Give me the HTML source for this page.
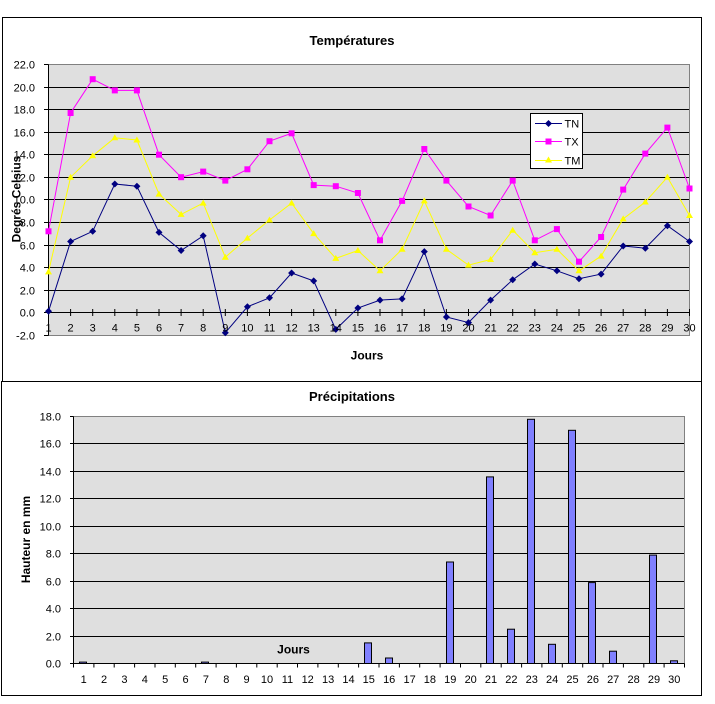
<!DOCTYPE html>
<html><head><meta charset="utf-8"><style>
html,body{margin:0;padding:0;background:#fff;}
svg{display:block;}
text{font-family:"Liberation Sans",Arial,sans-serif;fill:#000;}
.t{font-size:11px;}
.b{font-weight:bold;font-size:12px;}
.h{font-weight:bold;font-size:13px;}
</style></head><body>
<svg width="715" height="704" viewBox="0 0 715 704" xmlns="http://www.w3.org/2000/svg">
<rect width="715" height="704" fill="#fff"/>
<!-- chart frames -->
<rect x="2.5" y="17.5" width="699" height="364" fill="#fff" stroke="#000"/>
<rect x="1.5" y="381.5" width="700" height="314" fill="#fff" stroke="#000"/>

<!-- ===== TOP CHART ===== -->
<text class="h" x="352" y="45" text-anchor="middle">Températures</text>
<rect x="48.5" y="64.5" width="641" height="271" fill="#dfdfdf"/>
<g stroke="#000" stroke-width="1">
<line x1="48.5" y1="87.5" x2="689.5" y2="87.5"/>
<line x1="48.5" y1="109.5" x2="689.5" y2="109.5"/>
<line x1="48.5" y1="132.5" x2="689.5" y2="132.5"/>
<line x1="48.5" y1="154.5" x2="689.5" y2="154.5"/>
<line x1="48.5" y1="177.5" x2="689.5" y2="177.5"/>
<line x1="48.5" y1="199.5" x2="689.5" y2="199.5"/>
<line x1="48.5" y1="222.5" x2="689.5" y2="222.5"/>
<line x1="48.5" y1="245.5" x2="689.5" y2="245.5"/>
<line x1="48.5" y1="267.5" x2="689.5" y2="267.5"/>
<line x1="48.5" y1="290.5" x2="689.5" y2="290.5"/>
<line x1="48.5" y1="312.5" x2="689.5" y2="312.5"/>
</g>
<path d="M48.5 64.5 H689.5 V335.5 H48.5" fill="none" stroke="#808080"/>
<line x1="48.5" y1="64.5" x2="48.5" y2="335.5" stroke="#000"/>
<g stroke="#000">
<path d="M44 64.5H48.5M44 87.5H48.5M44 109.5H48.5M44 132.5H48.5M44 154.5H48.5M44 177.5H48.5M44 199.5H48.5M44 222.5H48.5M44 245.5H48.5M44 267.5H48.5M44 290.5H48.5M44 312.5H48.5M44 335.5H48.5"/>
<path d="M70.6 309V316M92.7 309V316M114.8 309V316M136.9 309V316M159 309V316M181.1 309V316M203.2 309V316M225.3 309V316M247.4 309V316M269.5 309V316M291.6 309V316M313.7 309V316M335.8 309V316M357.9 309V316M380 309V316M402.1 309V316M424.3 309V316M446.4 309V316M468.5 309V316M490.6 309V316M512.7 309V316M534.8 309V316M556.9 309V316M579 309V316M601.1 309V316M623.2 309V316M645.3 309V316M667.4 309V316M689.5 309V316"/>
</g>
<g class="t" text-anchor="end">
<text x="35" y="68.5">22.0</text>
<text x="35" y="91.5">20.0</text>
<text x="35" y="113.5">18.0</text>
<text x="35" y="136.5">16.0</text>
<text x="35" y="158.5">14.0</text>
<text x="35" y="181.5">12.0</text>
<text x="35" y="203.5">10.0</text>
<text x="35" y="226.5">8.0</text>
<text x="35" y="249.5">6.0</text>
<text x="35" y="271.5">4.0</text>
<text x="35" y="294.5">2.0</text>
<text x="35" y="316.5">0.0</text>
<text x="35" y="339.5">-2.0</text>
</g>
<text class="b" x="16.5" y="199" text-anchor="middle" dominant-baseline="central" transform="rotate(-90 16.5 199)">Degrés Celsius</text>

<!-- series TN -->
<polyline fill="none" stroke="#000080" points="48.5,311.3 70.6,241.5 92.7,231.3 114.8,184 136.9,186.2 159,232.4 181.1,250.5 203.2,235.8 225.3,332.7 247.4,306.8 269.5,297.8 291.6,273 313.7,280.9 335.8,329.4 357.9,308 380,300.1 402.1,298.9 424.3,251.6 446.4,317 468.5,322.6 490.6,300.1 512.7,279.8 534.8,264 556.9,270.8 579,278.7 601.1,274.1 623.2,246 645.3,248.2 667.4,225.7 689.5,241.5"/>
<!-- series TX -->
<polyline fill="none" stroke="#ff00ff" points="48.5,231.3 70.6,113 92.7,79.2 114.8,90.4 136.9,90.4 159,154.7 181.1,177.2 203.2,171.6 225.3,180.6 247.4,169.3 269.5,141.2 291.6,133.3 313.7,185.1 335.8,186.2 357.9,193 380,240.3 402.1,200.9 424.3,149 446.4,180.6 468.5,206.5 490.6,215.5 512.7,180.6 534.8,240.3 556.9,229.1 579,261.7 601.1,237 623.2,189.6 645.3,153.6 667.4,127.6 689.5,188.5"/>
<!-- series TM -->
<polyline fill="none" stroke="#ffff00" points="48.5,271.9 70.6,177.2 92.7,155.8 114.8,137.8 136.9,140 159,194.1 181.1,214.4 203.2,203.1 225.3,257.2 247.4,238.1 269.5,220 291.6,203.1 313.7,233.6 335.8,258.4 357.9,250.5 380,270.8 402.1,249.3 424.3,200.9 446.4,249.3 468.5,265.1 490.6,259.5 512.7,230.2 534.8,252.7 556.9,249.3 579,270.8 601.1,256.1 623.2,218.9 645.3,202 667.4,177.2 689.5,215.5"/>

<!-- TN markers (diamonds) -->
<g fill="#000080">
<path d="M48.5 307.8l3.5 3.5l-3.5 3.5l-3.5-3.5z"/>
<path d="M70.6 238l3.5 3.5l-3.5 3.5l-3.5-3.5z"/>
<path d="M92.7 227.8l3.5 3.5l-3.5 3.5l-3.5-3.5z"/>
<path d="M114.8 180.5l3.5 3.5l-3.5 3.5l-3.5-3.5z"/>
<path d="M136.9 182.7l3.5 3.5l-3.5 3.5l-3.5-3.5z"/>
<path d="M159 228.9l3.5 3.5l-3.5 3.5l-3.5-3.5z"/>
<path d="M181.1 247l3.5 3.5l-3.5 3.5l-3.5-3.5z"/>
<path d="M203.2 232.3l3.5 3.5l-3.5 3.5l-3.5-3.5z"/>
<path d="M225.3 329.2l3.5 3.5l-3.5 3.5l-3.5-3.5z"/>
<path d="M247.4 303.3l3.5 3.5l-3.5 3.5l-3.5-3.5z"/>
<path d="M269.5 294.3l3.5 3.5l-3.5 3.5l-3.5-3.5z"/>
<path d="M291.6 269.5l3.5 3.5l-3.5 3.5l-3.5-3.5z"/>
<path d="M313.7 277.4l3.5 3.5l-3.5 3.5l-3.5-3.5z"/>
<path d="M335.8 325.9l3.5 3.5l-3.5 3.5l-3.5-3.5z"/>
<path d="M357.9 304.5l3.5 3.5l-3.5 3.5l-3.5-3.5z"/>
<path d="M380 296.6l3.5 3.5l-3.5 3.5l-3.5-3.5z"/>
<path d="M402.1 295.4l3.5 3.5l-3.5 3.5l-3.5-3.5z"/>
<path d="M424.3 248.1l3.5 3.5l-3.5 3.5l-3.5-3.5z"/>
<path d="M446.4 313.5l3.5 3.5l-3.5 3.5l-3.5-3.5z"/>
<path d="M468.5 319.1l3.5 3.5l-3.5 3.5l-3.5-3.5z"/>
<path d="M490.6 296.6l3.5 3.5l-3.5 3.5l-3.5-3.5z"/>
<path d="M512.7 276.3l3.5 3.5l-3.5 3.5l-3.5-3.5z"/>
<path d="M534.8 260.5l3.5 3.5l-3.5 3.5l-3.5-3.5z"/>
<path d="M556.9 267.3l3.5 3.5l-3.5 3.5l-3.5-3.5z"/>
<path d="M579 275.2l3.5 3.5l-3.5 3.5l-3.5-3.5z"/>
<path d="M601.1 270.6l3.5 3.5l-3.5 3.5l-3.5-3.5z"/>
<path d="M623.2 242.5l3.5 3.5l-3.5 3.5l-3.5-3.5z"/>
<path d="M645.3 244.7l3.5 3.5l-3.5 3.5l-3.5-3.5z"/>
<path d="M667.4 222.2l3.5 3.5l-3.5 3.5l-3.5-3.5z"/>
<path d="M689.5 238l3.5 3.5l-3.5 3.5l-3.5-3.5z"/>
</g>
<!-- TX markers (squares) -->
<g fill="#ff00ff">
<rect x="45.5" y="228.3" width="6" height="6"/>
<rect x="67.6" y="110" width="6" height="6"/>
<rect x="89.7" y="76.2" width="6" height="6"/>
<rect x="111.8" y="87.4" width="6" height="6"/>
<rect x="133.9" y="87.4" width="6" height="6"/>
<rect x="156" y="151.7" width="6" height="6"/>
<rect x="178.1" y="174.2" width="6" height="6"/>
<rect x="200.2" y="168.6" width="6" height="6"/>
<rect x="222.3" y="177.6" width="6" height="6"/>
<rect x="244.4" y="166.3" width="6" height="6"/>
<rect x="266.5" y="138.2" width="6" height="6"/>
<rect x="288.6" y="130.3" width="6" height="6"/>
<rect x="310.7" y="182.1" width="6" height="6"/>
<rect x="332.8" y="183.2" width="6" height="6"/>
<rect x="354.9" y="190" width="6" height="6"/>
<rect x="377" y="237.3" width="6" height="6"/>
<rect x="399.1" y="197.9" width="6" height="6"/>
<rect x="421.3" y="146" width="6" height="6"/>
<rect x="443.4" y="177.6" width="6" height="6"/>
<rect x="465.5" y="203.5" width="6" height="6"/>
<rect x="487.6" y="212.5" width="6" height="6"/>
<rect x="509.7" y="177.6" width="6" height="6"/>
<rect x="531.8" y="237.3" width="6" height="6"/>
<rect x="553.9" y="226.1" width="6" height="6"/>
<rect x="576" y="258.7" width="6" height="6"/>
<rect x="598.1" y="234" width="6" height="6"/>
<rect x="620.2" y="186.6" width="6" height="6"/>
<rect x="642.3" y="150.6" width="6" height="6"/>
<rect x="664.4" y="124.6" width="6" height="6"/>
<rect x="686.5" y="185.5" width="6" height="6"/>
</g>
<!-- TM markers (triangles) -->
<g fill="#ffff00">
<path d="M48.5 268.4l3.5 6h-7z"/>
<path d="M70.6 173.7l3.5 6h-7z"/>
<path d="M92.7 152.3l3.5 6h-7z"/>
<path d="M114.8 134.3l3.5 6h-7z"/>
<path d="M136.9 136.5l3.5 6h-7z"/>
<path d="M159 190.6l3.5 6h-7z"/>
<path d="M181.1 210.9l3.5 6h-7z"/>
<path d="M203.2 199.6l3.5 6h-7z"/>
<path d="M225.3 253.7l3.5 6h-7z"/>
<path d="M247.4 234.6l3.5 6h-7z"/>
<path d="M269.5 216.5l3.5 6h-7z"/>
<path d="M291.6 199.6l3.5 6h-7z"/>
<path d="M313.7 230.1l3.5 6h-7z"/>
<path d="M335.8 254.9l3.5 6h-7z"/>
<path d="M357.9 247l3.5 6h-7z"/>
<path d="M380 267.3l3.5 6h-7z"/>
<path d="M402.1 245.8l3.5 6h-7z"/>
<path d="M424.3 197.4l3.5 6h-7z"/>
<path d="M446.4 245.8l3.5 6h-7z"/>
<path d="M468.5 261.6l3.5 6h-7z"/>
<path d="M490.6 256l3.5 6h-7z"/>
<path d="M512.7 226.7l3.5 6h-7z"/>
<path d="M534.8 249.2l3.5 6h-7z"/>
<path d="M556.9 245.8l3.5 6h-7z"/>
<path d="M579 267.3l3.5 6h-7z"/>
<path d="M601.1 252.6l3.5 6h-7z"/>
<path d="M623.2 215.4l3.5 6h-7z"/>
<path d="M645.3 198.5l3.5 6h-7z"/>
<path d="M667.4 173.7l3.5 6h-7z"/>
<path d="M689.5 212l3.5 6h-7z"/>
</g>

<g class="t" text-anchor="middle">
<text x="48.5" y="331.5">1</text><text x="70.6" y="331.5">2</text><text x="92.7" y="331.5">3</text><text x="114.8" y="331.5">4</text><text x="136.9" y="331.5">5</text><text x="159" y="331.5">6</text><text x="181.1" y="331.5">7</text><text x="203.2" y="331.5">8</text><text x="225.3" y="331.5">9</text><text x="247.4" y="331.5">10</text><text x="269.5" y="331.5">11</text><text x="291.6" y="331.5">12</text><text x="313.7" y="331.5">13</text><text x="335.8" y="331.5">14</text><text x="357.9" y="331.5">15</text><text x="380" y="331.5">16</text><text x="402.1" y="331.5">17</text><text x="424.3" y="331.5">18</text><text x="446.4" y="331.5">19</text><text x="468.5" y="331.5">20</text><text x="490.6" y="331.5">21</text><text x="512.7" y="331.5">22</text><text x="534.8" y="331.5">23</text><text x="556.9" y="331.5">24</text><text x="579" y="331.5">25</text><text x="601.1" y="331.5">26</text><text x="623.2" y="331.5">27</text><text x="645.3" y="331.5">28</text><text x="667.4" y="331.5">29</text><text x="689.5" y="331.5">30</text>
</g>
<text class="b" x="367" y="359.5" text-anchor="middle">Jours</text>

<!-- legend -->
<rect x="530.5" y="113.5" width="52" height="55" fill="#fff" stroke="#000"/>
<line x1="535" y1="123.5" x2="562" y2="123.5" stroke="#000080"/>
<path d="M548.5 120l3.5 3.5l-3.5 3.5l-3.5-3.5z" fill="#000080"/>
<line x1="535" y1="141.5" x2="562" y2="141.5" stroke="#ff00ff"/>
<rect x="545.5" y="138.5" width="6" height="6" fill="#ff00ff"/>
<line x1="535" y1="160.5" x2="562" y2="160.5" stroke="#ffff00"/>
<path d="M548.5 156.5l3.5 6h-7z" fill="#ffff00"/>
<g class="t">
<text x="564.5" y="127.5">TN</text>
<text x="564.5" y="145.5">TX</text>
<text x="564.5" y="164.5">TM</text>
</g>

<!-- ===== BOTTOM CHART ===== -->
<text class="h" x="352" y="401" text-anchor="middle">Précipitations</text>
<rect x="73.5" y="416.5" width="611" height="247" fill="#dfdfdf"/>
<g stroke="#000">
<line x1="73.5" y1="443.5" x2="684.5" y2="443.5"/>
<line x1="73.5" y1="471.5" x2="684.5" y2="471.5"/>
<line x1="73.5" y1="498.5" x2="684.5" y2="498.5"/>
<line x1="73.5" y1="526.5" x2="684.5" y2="526.5"/>
<line x1="73.5" y1="553.5" x2="684.5" y2="553.5"/>
<line x1="73.5" y1="581.5" x2="684.5" y2="581.5"/>
<line x1="73.5" y1="608.5" x2="684.5" y2="608.5"/>
<line x1="73.5" y1="636.5" x2="684.5" y2="636.5"/>
</g>
<path d="M73.5 416.5H684.5V663.5" fill="none" stroke="#808080"/>

<!-- bars -->
<g fill="#8080ff" stroke="#000">
<rect x="79.5" y="662.1" width="7" height="1.4"/>
<rect x="201.5" y="662.1" width="7" height="1.4"/>
<rect x="364.5" y="642.9" width="7" height="20.6"/>
<rect x="385.5" y="658" width="7" height="5.5"/>
<rect x="446.5" y="562" width="7" height="101.5"/>
<rect x="486.5" y="476.9" width="7" height="186.6"/>
<rect x="507.5" y="629.2" width="7" height="34.3"/>
<rect x="527.5" y="419.3" width="7" height="244.2"/>
<rect x="548.5" y="644.3" width="7" height="19.2"/>
<rect x="568.5" y="430.3" width="7" height="233.2"/>
<rect x="588.5" y="582.6" width="7" height="80.9"/>
<rect x="609.5" y="651.2" width="7" height="12.3"/>
<rect x="649.5" y="555.1" width="7" height="108.4"/>
<rect x="670.5" y="660.8" width="7" height="2.7"/>
</g>

<g stroke="#000">
<line x1="73.5" y1="416.5" x2="73.5" y2="663.5"/>
<line x1="73.5" y1="663.5" x2="684.5" y2="663.5"/>
<path d="M70 416.5H73.5M70 443.5H73.5M70 471.5H73.5M70 498.5H73.5M70 526.5H73.5M70 553.5H73.5M70 581.5H73.5M70 608.5H73.5M70 636.5H73.5M70 663.5H73.5"/>
<path d="M73.5 663.5V667.5M93.9 663.5V667.5M114.2 663.5V667.5M134.6 663.5V667.5M155 663.5V667.5M175.3 663.5V667.5M195.7 663.5V667.5M216.1 663.5V667.5M236.4 663.5V667.5M256.8 663.5V667.5M277.2 663.5V667.5M297.5 663.5V667.5M317.9 663.5V667.5M338.3 663.5V667.5M358.6 663.5V667.5M379 663.5V667.5M399.4 663.5V667.5M419.7 663.5V667.5M440.1 663.5V667.5M460.5 663.5V667.5M480.8 663.5V667.5M501.2 663.5V667.5M521.6 663.5V667.5M541.9 663.5V667.5M562.3 663.5V667.5M582.7 663.5V667.5M603 663.5V667.5M623.4 663.5V667.5M643.8 663.5V667.5M664.1 663.5V667.5M684.5 663.5V667.5"/>
</g>

<g class="t" text-anchor="end">
<text x="61" y="420.5">18.0</text>
<text x="61" y="447.5">16.0</text>
<text x="61" y="475.5">14.0</text>
<text x="61" y="502.5">12.0</text>
<text x="61" y="530.5">10.0</text>
<text x="61" y="557.5">8.0</text>
<text x="61" y="585.5">6.0</text>
<text x="61" y="612.5">4.0</text>
<text x="61" y="640.5">2.0</text>
<text x="61" y="667.5">0.0</text>
</g>
<text class="b" x="26" y="539.5" text-anchor="middle" dominant-baseline="central" transform="rotate(-90 26 539.5)">Hauteur en mm</text>

<g class="t" text-anchor="middle">
<text x="83.7" y="683">1</text><text x="104" y="683">2</text><text x="124.4" y="683">3</text><text x="144.8" y="683">4</text><text x="165.2" y="683">5</text><text x="185.5" y="683">6</text><text x="205.9" y="683">7</text><text x="226.3" y="683">8</text><text x="246.6" y="683">9</text><text x="267" y="683">10</text><text x="287.4" y="683">11</text><text x="307.7" y="683">12</text><text x="328.1" y="683">13</text><text x="348.5" y="683">14</text><text x="368.8" y="683">15</text><text x="389.2" y="683">16</text><text x="409.6" y="683">17</text><text x="429.9" y="683">18</text><text x="450.3" y="683">19</text><text x="470.7" y="683">20</text><text x="491" y="683">21</text><text x="511.4" y="683">22</text><text x="531.8" y="683">23</text><text x="552.1" y="683">24</text><text x="572.5" y="683">25</text><text x="592.9" y="683">26</text><text x="613.2" y="683">27</text><text x="633.6" y="683">28</text><text x="654" y="683">29</text><text x="674.3" y="683">30</text>
</g>
<text class="b" x="293.5" y="653.5" text-anchor="middle">Jours</text>
</svg>
</body></html>
